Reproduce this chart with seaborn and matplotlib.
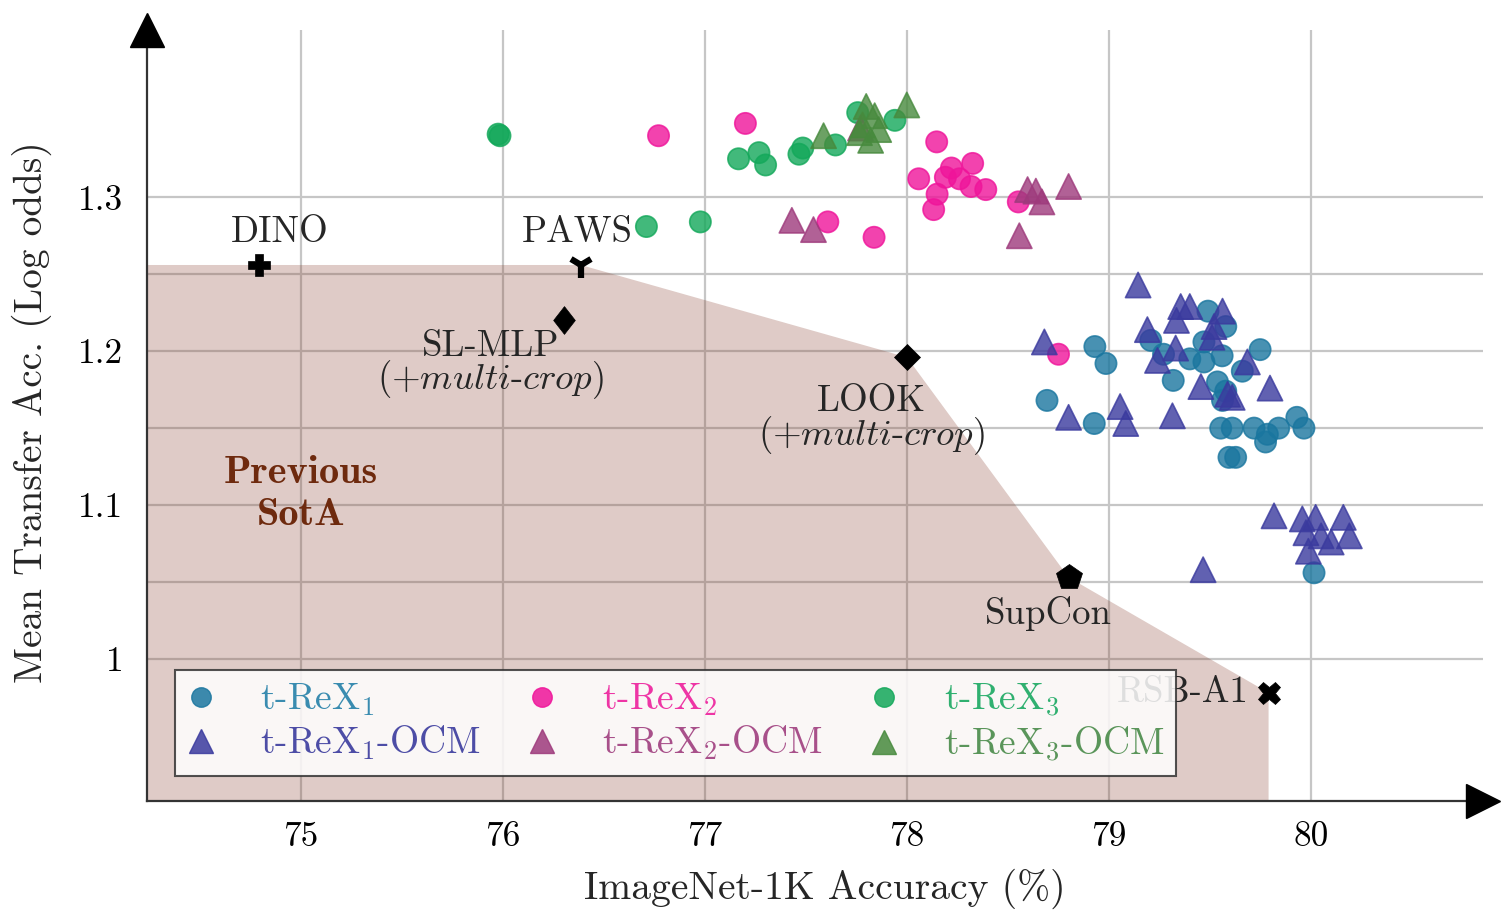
import numpy as np
import pandas as pd
import matplotlib
matplotlib.use("Agg")
import matplotlib.pyplot as plt
import seaborn as sns
from matplotlib.lines import Line2D
from matplotlib.path import Path
from matplotlib.ticker import FixedLocator

# ---------------- data ----------------
rex1_x = [79.49, 79.578, 79.207, 78.93, 78.985, 79.47, 79.27, 79.40, 79.47, 79.56,
          79.748, 79.66, 79.318, 79.537, 79.578, 79.562, 78.693, 78.927, 79.553, 79.61,
          79.718, 79.784, 79.775, 79.84, 79.93, 79.965, 79.594, 79.627, 80.015]
rex1_y = [1.226, 1.216, 1.207, 1.203, 1.192, 1.206, 1.198, 1.195, 1.193, 1.197,
          1.201, 1.187, 1.181, 1.180, 1.174, 1.168, 1.168, 1.153, 1.150, 1.150,
          1.150, 1.146, 1.141, 1.150, 1.157, 1.150, 1.131, 1.131, 1.056]

rex1_ocm_x = [79.144, 79.355, 79.40, 79.334, 79.562, 79.52, 79.51, 79.19, 78.68, 79.33,
              79.24, 79.685, 79.455, 79.587, 79.61, 79.797, 79.055, 79.083, 78.80, 79.314,
              79.817, 79.957, 80.023, 80.16, 79.975, 80.05, 80.10, 80.19, 79.987, 79.466]
rex1_ocm_y = [1.243, 1.229, 1.229, 1.220, 1.226, 1.216, 1.209, 1.214, 1.206, 1.202,
              1.194, 1.193, 1.177, 1.172, 1.170, 1.176, 1.164, 1.153, 1.157, 1.158,
              1.093, 1.091, 1.092, 1.092, 1.082, 1.080, 1.076, 1.080, 1.070, 1.058]

rex2_x = [76.77, 77.20, 78.147, 78.058, 78.22, 78.325, 78.19, 78.26, 78.317, 78.39,
          78.149, 78.132, 78.551, 77.608, 77.837, 78.75]
rex2_y = [1.340, 1.348, 1.336, 1.312, 1.319, 1.322, 1.313, 1.312, 1.307, 1.305,
          1.302, 1.292, 1.297, 1.284, 1.274, 1.198]

rex2_ocm_x = [77.43, 77.537, 78.597, 78.638, 78.668, 78.80, 78.556, 77.77]
rex2_ocm_y = [1.285, 1.279, 1.305, 1.304, 1.297, 1.307, 1.275, 1.345]

rex3_x = [75.976, 75.985, 76.71, 76.977, 77.166, 77.267, 77.30, 77.465, 77.484, 77.646,
          77.756, 77.94]
rex3_y = [1.341, 1.340, 1.281, 1.284, 1.325, 1.329, 1.321, 1.328, 1.332, 1.334,
          1.355, 1.350]

rex3_ocm_x = [77.587, 77.798, 77.999, 77.78, 77.86, 77.82, 77.765, 77.84]
rex3_ocm_y = [1.340, 1.359, 1.360, 1.347, 1.344, 1.337, 1.342, 1.353]

series_names = ["t-ReX$_1$", "t-ReX$_1$-OCM", "t-ReX$_2$", "t-ReX$_2$-OCM",
                "t-ReX$_3$", "t-ReX$_3$-OCM"]

baseline_names = ["DINO", "PAWS", "SL-MLP", "LOOK", "SupCon", "RSB-A1"]
baseline_x = [74.79, 76.385, 76.30, 78.00, 78.80, 79.79]
baseline_y = [1.256, 1.256, 1.220, 1.196, 1.053, 0.978]
frontier_names = ["PAWS", "LOOK", "SupCon", "RSB-A1"]

x_ticks = [75, 76, 77, 78, 79, 80]
y_ticks = [1.0, 1.1, 1.2, 1.3]
y_tick_labels = ["1", "1.1", "1.2", "1.3"]
y_minor_ticks = [1.05, 1.15, 1.25]

# ---------------- style ----------------
colors = {
    "t-ReX$_1$": "#1a769f",
    "t-ReX$_1$-OCM": "#3a3a9e",
    "t-ReX$_2$": "#ef149a",
    "t-ReX$_2$-OCM": "#9e3a7c",
    "t-ReX$_3$": "#13a85a",
    "t-ReX$_3$-OCM": "#478a3d",
}
label_colors = {
    "t-ReX$_1$": "#3a8cb0",
    "t-ReX$_1$-OCM": "#4d4da6",
    "t-ReX$_2$": "#ee35a5",
    "t-ReX$_2$-OCM": "#a8508a",
    "t-ReX$_3$": "#30b070",
    "t-ReX$_3$-OCM": "#5a955a",
}
markers = {n: ("^" if "OCM" in n else "o") for n in series_names}

sns.set_theme(style="white")
plt.rcParams["font.family"] = ["cmr10", "DejaVu Sans"]
plt.rcParams["mathtext.fontset"] = "cm"
plt.rcParams["axes.formatter.use_mathtext"] = True
plt.rcParams["axes.unicode_minus"] = False

series_x = [rex1_x, rex1_ocm_x, rex2_x, rex2_ocm_x, rex3_x, rex3_ocm_x]
series_y = [rex1_y, rex1_ocm_y, rex2_y, rex2_ocm_y, rex3_y, rex3_ocm_y]
df = pd.concat([pd.DataFrame({"x": xs, "y": ys, "series": n})
                for n, xs, ys in zip(series_names, series_x, series_y)],
               ignore_index=True)

W, H = 1503, 910
fig = plt.figure(figsize=(W / 100, H / 100), dpi=100)
L, R, T, B = 147, 1483, 30, 801
ax = fig.add_axes([L / W, 1 - B / H, (R - L) / W, (B - T) / H])

XMIN, XMAX = 74.2376, 80.8515
YMIN, YMAX = 0.9077, 1.4087
ax.set_xlim(XMIN, XMAX)
ax.set_ylim(YMIN, YMAX)

# grid & ticks
ax.set_axisbelow(True)
ax.set_xticks(x_ticks)
ax.set_xticklabels([str(t) for t in x_ticks])
ax.set_yticks(y_ticks)
ax.set_yticklabels(y_tick_labels)
ax.yaxis.set_minor_locator(FixedLocator(y_minor_ticks))
ax.grid(True, which="both", axis="y", color="#c6c6c6", lw=1.6)
ax.grid(True, which="major", axis="x", color="#c6c6c6", lw=1.6)
ax.tick_params(axis="both", which="both", length=8, width=1.3, color="#c6c6c6",
               direction="out", labelsize=25.5, labelcolor="black")
ax.tick_params(axis="x", pad=7)
ax.tick_params(axis="y", pad=9)
for s in ["top", "right"]:
    ax.spines[s].set_visible(False)
for s in ["left", "bottom"]:
    ax.spines[s].set_color("#333333")
    ax.spines[s].set_linewidth(1.6)

# previous SotA region
bx = dict(zip(baseline_names, baseline_x))
by = dict(zip(baseline_names, baseline_y))
poly_x = [XMIN, XMIN] + [bx[n] for n in frontier_names] + [bx["RSB-A1"]]
poly_y = [YMIN, by["PAWS"]] + [by[n] for n in frontier_names] + [YMIN]
ax.fill(poly_x, poly_y, color="#8c4536", alpha=0.28, lw=0, zorder=1)

ax.text(75.0, 1.107, "Previous\nSotA", family="cmb10", fontsize=29,
        color="#6e2a0e", ha="center", va="center", linespacing=1.28, zorder=3)

# t-ReX scatter
circ = df[~df["series"].str.contains("OCM")]
tri = df[df["series"].str.contains("OCM")]
sns.scatterplot(data=circ, x="x", y="y", hue="series", palette=colors,
                style="series", markers=markers, s=235, alpha=0.8,
                edgecolor="face", linewidth=1.2, legend=False, ax=ax, zorder=4)
sns.scatterplot(data=tri, x="x", y="y", hue="series", palette=colors,
                style="series", markers=markers, s=330, alpha=0.8,
                edgecolor="face", linewidth=1.2, legend=False, ax=ax, zorder=4)

# baselines
thin_d = Path([(0, 1), (0.78, 0), (0, -1), (-0.78, 0), (0, 1)],
              [Path.MOVETO, Path.LINETO, Path.LINETO, Path.LINETO, Path.CLOSEPOLY])
bmark = {"DINO": ("P", 16, 0), "PAWS": ("1", 18, 4.5), "SL-MLP": (thin_d, 20, 0),
         "LOOK": ("D", 13.5, 0), "SupCon": ("p", 19, 0), "RSB-A1": ("X", 16, 0)}
for n in baseline_names:
    m, ms, mew = bmark[n]
    ax.plot(bx[n], by[n], marker=m, ms=ms, color="black", mec="black",
            mew=mew if mew else 0.5, ls="", zorder=5)

fs = 26.5
mc = r"(+$\mathit{multi}$-$\mathit{crop}$)"
ax.text(74.896, 1.2772, "DINO", fontsize=fs, ha="center", va="center", zorder=3)
ax.text(76.37, 1.2772, "PAWS", fontsize=fs, ha="center", va="center", zorder=3)
ax.text(75.94, 1.1908, "SL-MLP\n" + mc, fontsize=fs, ha="center", va="center",
        multialignment="center", linespacing=0.85, zorder=3)
ax.text(77.824, 1.1547, "LOOK\n" + mc, fontsize=fs, ha="center", va="center",
        multialignment="center", linespacing=0.85, zorder=3)
ax.text(78.70, 1.0293, "SupCon", fontsize=fs, ha="center", va="center", zorder=3)
ax.text(79.693, 0.978, "RSB-A1", fontsize=fs, ha="right", va="center", zorder=3)

# axis arrows
ax.plot(0, 1, marker="^", ms=24, color="black", transform=ax.transAxes,
        clip_on=False, zorder=10)
ax.plot(1, 0, marker=">", ms=24, color="black", transform=ax.transAxes,
        clip_on=False, zorder=10)

# labels
ax.set_xlabel("ImageNet-1K Accuracy (%)", fontsize=28.5)
ax.set_ylabel("Mean Transfer Acc. (Log odds)", fontsize=28.3)
ax.xaxis.set_label_coords((825 - L) / (R - L), (B - 889) / (B - T))
ax.xaxis.label.set_va("center")
ax.yaxis.set_label_coords((32 - L) / (R - L), (B - 412) / (B - T))
ax.yaxis.label.set_va("center")

# legend
handles = [Line2D([0], [0], marker=markers[n], ls="", color=colors[n], mec=colors[n],
                  alpha=0.85, ms=(17 if "OCM" in n else 14)) for n in series_names]
leg = ax.legend(handles, series_names, ncol=3, loc="lower left",
                bbox_to_anchor=((175 - L) / (R - L), (B - 776) / (B - T)),
                borderaxespad=0, fontsize=27, frameon=True, fancybox=False,
                edgecolor="#333333", facecolor="white", framealpha=0.85,
                handlelength=0.73, handletextpad=1.23, columnspacing=1.27,
                borderpad=0.32, labelspacing=0.15)
leg.get_frame().set_linewidth(1.5)
leg.set_zorder(20)
for t, n in zip(leg.get_texts(), series_names):
    t.set_color(label_colors[n])

fig.savefig("out.png", dpi=100)
